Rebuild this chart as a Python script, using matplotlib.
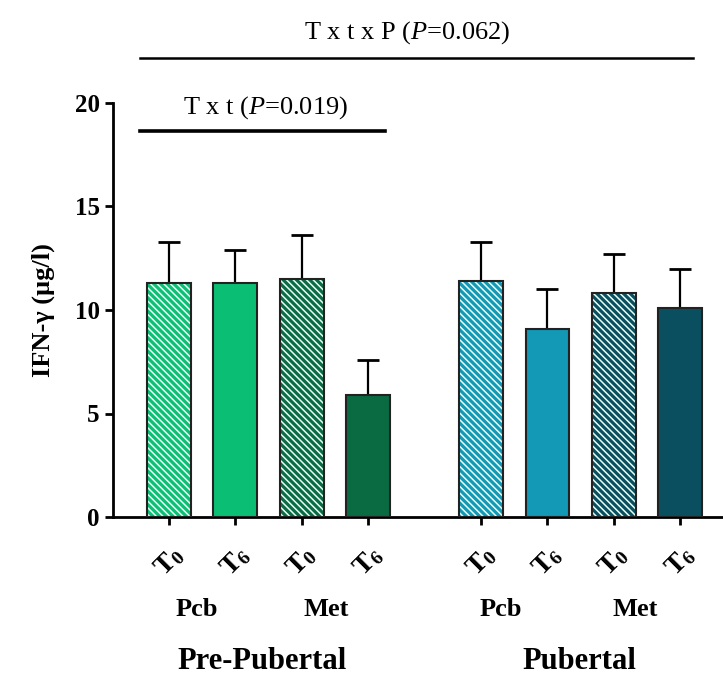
import numpy as np
import matplotlib.pyplot as plt

plt.rcParams['font.family'] = 'Liberation Serif'
plt.rcParams['mathtext.fontset'] = 'custom'
plt.rcParams['mathtext.rm'] = 'Liberation Serif'
plt.rcParams['mathtext.it'] = 'Liberation Serif:italic'
plt.rcParams['mathtext.bf'] = 'Liberation Serif:bold'
plt.rcParams['hatch.linewidth'] = 1.1

# data
positions = [0, 1, 2, 3, 4.7, 5.7, 6.7, 7.7]
means = [11.3, 11.3, 11.5, 5.9, 11.4, 9.1, 10.8, 10.1]
sems = [2.0, 1.6, 2.1, 1.7, 1.9, 1.9, 1.9, 1.9]
tick_labels = ['$\\mathbf{T_0}$', '$\\mathbf{T_6}$', '$\\mathbf{T_0}$', '$\\mathbf{T_6}$',
               '$\\mathbf{T_0}$', '$\\mathbf{T_6}$', '$\\mathbf{T_0}$', '$\\mathbf{T_6}$']
colors = ['#0bbf74', '#0abf74', '#0b6b44', '#0a6b43',
          '#1398b5', '#1398b5', '#0a4f60', '#0a4f60']
hatched = [True, False, True, False, True, False, True, False]

fig = plt.figure(figsize=(7.23, 6.77), dpi=100)
ax = fig.add_axes([113 / 723, 1 - 517 / 677, 1 - 113 / 723, (517 - 103) / 677])

for x, m, s, c, h in zip(positions, means, sems, colors, hatched):
    if h:
        ax.bar(x, m, width=0.66, color=c, edgecolor='#e8fff6', hatch='\\\\\\\\\\', linewidth=0, zorder=2)
    else:
        ax.bar(x, m, width=0.66, color=c, linewidth=0, zorder=2)
    ax.bar(x, m, width=0.66, fill=False, edgecolor='#222222', linewidth=1.5, zorder=3)
    ax.errorbar(x, m, yerr=[[0], [s]], fmt='none', ecolor='black', elinewidth=1.6,
                capsize=8, capthick=2, zorder=1)

ax.set_xlim(-0.843, 8.343)
ax.set_ylim(0, 20)
ax.set_yticks([0, 5, 10, 15, 20])
ax.set_xticks(positions)
ax.set_xticklabels(tick_labels, rotation=45, fontsize=20, ha='center', va='top')
for lab in ax.get_yticklabels():
    lab.set_fontweight('bold')
    lab.set_fontsize(18)
ax.tick_params(axis='both', width=2, length=6)
ax.tick_params(axis='x', pad=12)
for side in ['top', 'right']:
    ax.spines[side].set_visible(False)
for side in ['left', 'bottom']:
    ax.spines[side].set_linewidth(2)

ax.set_ylabel('IFN-γ (µg/l)', fontsize=19, fontweight='bold', labelpad=14)

# treatment and group labels
for x, t in zip([0.42, 2.36, 5.0, 7.02], ['Pcb', 'Met', 'Pcb', 'Met']):
    ax.text(x, -4.45, t, fontsize=19, fontweight='bold', ha='center', va='center')
ax.text(1.40, -7.0, 'Pre-Pubertal', fontsize=22, fontweight='bold', ha='center', va='center')
ax.text(6.18, -7.0, 'Pubertal', fontsize=22, fontweight='bold', ha='center', va='center')

# significance bars
ax.plot([-0.437, 7.89], [22.17, 22.17], color='black', lw=1.8, clip_on=False)
ax.text(3.58, 23.4, 'T x t x P ($\\mathit{P}$=0.062)', fontsize=19, ha='center', va='center')
ax.plot([-0.437, 3.25], [18.65, 18.65], color='black', lw=2.6, clip_on=False)
ax.text(1.46, 19.8, 'T x t ($\\mathit{P}$=0.019)', fontsize=19, ha='center', va='center')

fig.savefig('out.png', dpi=100)
